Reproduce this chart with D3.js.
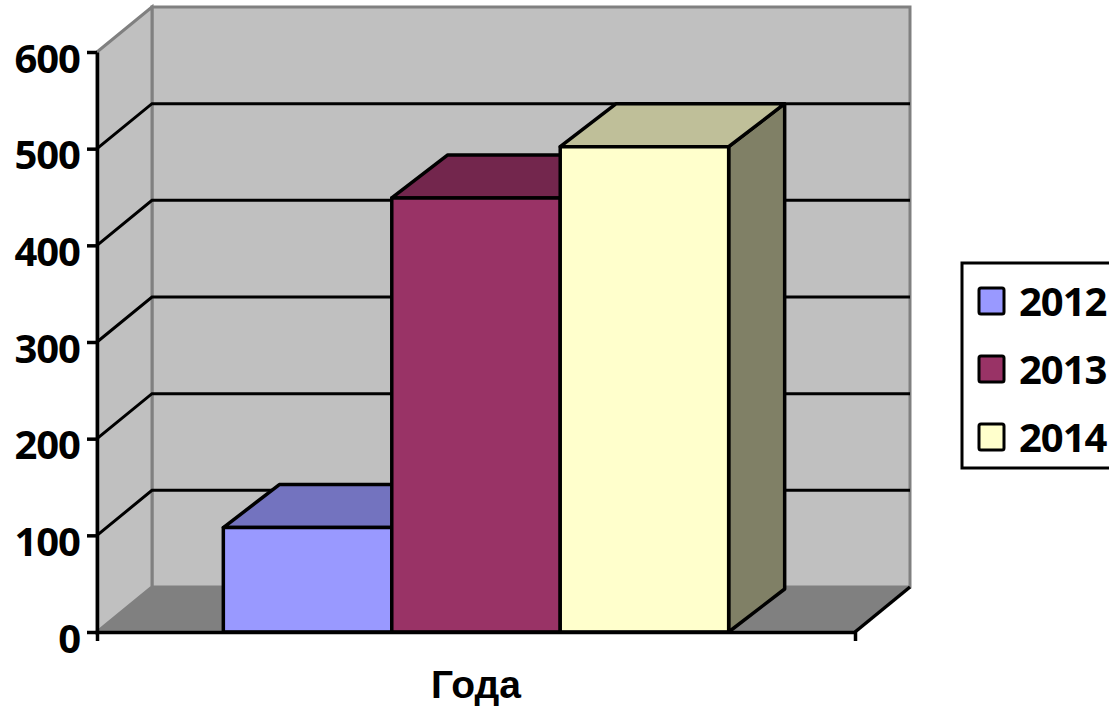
<!DOCTYPE html>
<html>
<head>
<meta charset="utf-8">
<script src="https://cdn.jsdelivr.net/npm/d3@7"></script>
<style>
    html, body { margin: 0; padding: 0; background: #fff; overflow: hidden; }
    svg { display: block; }
    text { font-family: "Open Sans", sans-serif; font-weight: 700; fill: #000; letter-spacing: -1px; }
</style>
</head>
<body>
<div id="chart"></div>
<script>
const years = ["2012", "2013", "2014"];
const values = [108, 449, 502];
const yTicks = [0, 100, 200, 300, 400, 500, 600];
const gridTicks = [100, 200, 300, 400, 500];
const axisTitle = "Года";

const frontColors = ["#9999ff", "#993366", "#ffffcc"];
const topColors = ["#7373bf", "#73264d", "#bfbf99"];
const sideColors = ["#4d4d80", "#4d1a33", "#808066"];

const width = 1109;
const height = 707;
const margin = { top: 52, right: 254, bottom: 75, left: 97 };
const plotLeft = margin.left, plotRight = width - margin.right;
const plotTop = margin.top, plotBottom = height - margin.bottom;
// 3d offset of the back wall and of the bars
const wallDx = 55, wallDy = -45;
const barDx = 56, barDy = -43;

const svg = d3.select("#chart")
    .append("svg")
    .attr("width", width)
    .attr("height", height);

const xScale = d3.scaleBand()
    .domain(years)
    .range([plotLeft, plotRight])
    .paddingInner(0)
    .paddingOuter(0.75);

const yScale = d3.scaleLinear()
    .domain([0, 600])
    .range([plotBottom, plotTop]);

function poly(points) {
    return "M" + points.map(p => p.join(",")).join("L") + "Z";
}

// Walls and floor
const y0 = yScale(0), yMax = yScale(600);

svg.append("path")
    .attr("d", poly([[plotLeft + wallDx, yMax + wallDy], [plotRight + wallDx, yMax + wallDy], [plotRight + wallDx, y0 + wallDy], [plotLeft + wallDx, y0 + wallDy]]))
    .attr("fill", "#c0c0c0")
    .attr("stroke", "#808080")
    .attr("stroke-width", 3);

svg.append("path")
    .attr("d", poly([[plotLeft, yMax], [plotLeft + wallDx, yMax + wallDy], [plotLeft + wallDx, y0 + wallDy], [plotLeft, y0]]))
    .attr("fill", "#c0c0c0")
    .attr("stroke", "#808080")
    .attr("stroke-width", 3);

svg.append("path")
    .attr("d", poly([[plotLeft, y0], [plotLeft + wallDx, y0 + wallDy], [plotRight + wallDx, y0 + wallDy], [plotRight, y0]]))
    .attr("fill", "#808080");

svg.append("line")
    .attr("x1", plotRight)
    .attr("y1", y0)
    .attr("x2", plotRight + wallDx)
    .attr("y2", y0 + wallDy)
    .attr("stroke", "#000")
    .attr("stroke-width", 3.5);

// Gridlines run along the side wall and then across the back wall
svg.selectAll(".grid")
    .data(gridTicks)
    .enter().append("path")
    .attr("class", "grid")
    .attr("d", d => d3.line()([[plotLeft, yScale(d)], [plotLeft + wallDx, yScale(d) + wallDy], [plotRight + wallDx, yScale(d) + wallDy]]))
    .attr("fill", "none")
    .attr("stroke", "#000")
    .attr("stroke-width", 3);

// Bars
const bars = svg.selectAll(".bar")
    .data(years)
    .enter().append("g")
    .attr("class", "bar")
    .attr("stroke", "#000")
    .attr("stroke-width", 3.5)
    .attr("stroke-linejoin", "round");

bars.append("path")
    .attr("fill", (d, i) => sideColors[i])
    .attr("d", (d, i) => {
        const x1 = xScale(d) + xScale.bandwidth();
        const y = yScale(values[i]);
        return poly([[x1, y], [x1 + barDx, y + barDy], [x1 + barDx, y0 + barDy], [x1, y0]]);
    });

bars.append("path")
    .attr("fill", (d, i) => topColors[i])
    .attr("d", (d, i) => {
        const x = xScale(d), x1 = x + xScale.bandwidth();
        const y = yScale(values[i]);
        return poly([[x, y], [x + barDx, y + barDy], [x1 + barDx, y + barDy], [x1, y]]);
    });

bars.append("rect")
    .attr("fill", (d, i) => frontColors[i])
    .attr("x", d => xScale(d))
    .attr("width", xScale.bandwidth())
    .attr("y", (d, i) => yScale(values[i]))
    .attr("height", (d, i) => y0 - yScale(values[i]));

// Axes
const yAxis = svg.append("g")
    .attr("class", "y-axis")
    .attr("transform", "translate(" + plotLeft + ",0)")
    .call(d3.axisLeft(yScale).tickValues(yTicks).tickSizeInner(10).tickSizeOuter(0).tickPadding(7));

const xAxis = svg.append("g")
    .attr("class", "x-axis")
    .attr("transform", "translate(0," + plotBottom + ")")
    .call(d3.axisBottom(xScale).tickValues([]).tickSizeOuter(9));

svg.selectAll(".y-axis path, .y-axis line, .x-axis path")
    .attr("stroke", "#000")
    .attr("stroke-width", 3.5);

// labels sit a little below their ticks in the original
yAxis.selectAll("text")
    .attr("dy", "0.5em")
    .style("font-size", "40px")
    .style("font-family", "'Open Sans', sans-serif")
    .style("font-weight", 700)
    .attr("fill", "#000");

// Liberation has a shorter descent, so the title stays inside the picture
svg.append("text")
    .attr("x", 476)
    .attr("y", 698)
    .style("text-anchor", "middle")
    .style("font-family", "'Liberation Sans', sans-serif")
    .style("font-size", "39px")
    .style("letter-spacing", "0px")
    .text(axisTitle);

// Legend, cut off by the right edge of the picture
const legend = svg.append("g").attr("class", "legend");

legend.append("rect")
    .attr("x", 962)
    .attr("y", 263)
    .attr("width", 180)
    .attr("height", 205)
    .attr("fill", "#fff")
    .attr("stroke", "#000")
    .attr("stroke-width", 3);

const legendY = d3.scalePoint()
    .domain(years)
    .range([301, 437]);

legend.selectAll(".swatch")
    .data(years)
    .enter().append("rect")
    .attr("class", "swatch")
    .attr("x", 979)
    .attr("y", d => legendY(d) - 13)
    .attr("width", 25)
    .attr("height", 26)
    .attr("rx", 2)
    .attr("fill", (d, i) => frontColors[i])
    .attr("stroke", "#000")
    .attr("stroke-width", 3);

legend.selectAll(".label")
    .data(years)
    .enter().append("text")
    .attr("class", "label")
    .attr("x", 1019)
    .attr("y", d => legendY(d))
    .attr("dy", "0.37em")
    .style("font-size", "40px")
    .text(d => d);
</script>
</body>
</html>
